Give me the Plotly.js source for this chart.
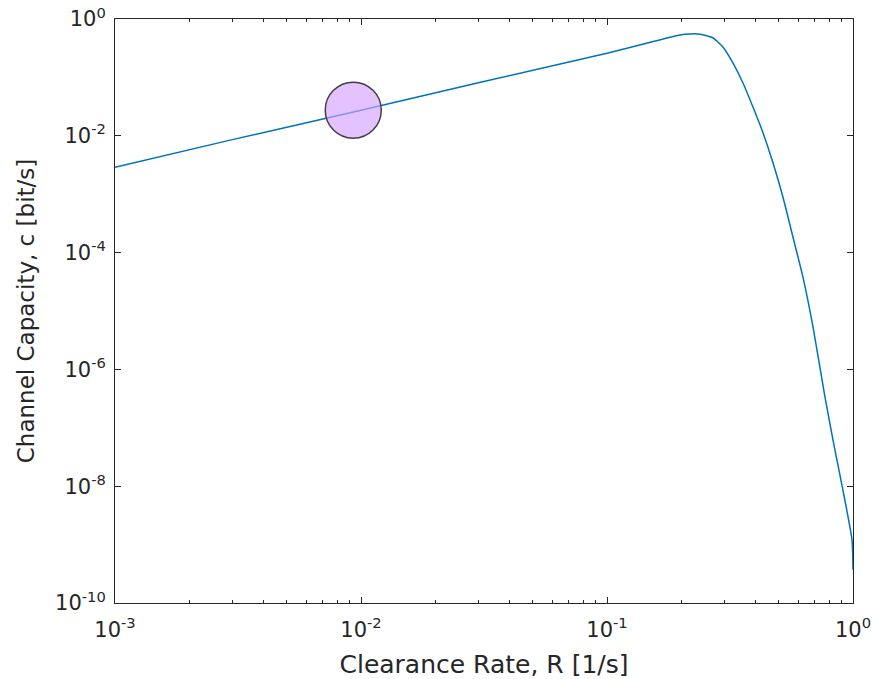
<!DOCTYPE html>
<html>
<head>
<meta charset="utf-8">
<script src="https://cdn.plot.ly/plotly-3.0.1.min.js"></script>
<style>html,body{margin:0;padding:0;background:#fff;}#chart{width:877px;height:679px;}</style>
</head>
<body>
<div id="chart"></div>
<script>
// Clearance rate R [1/s]
const rate = [0.001, 0.003, 0.01, 0.03, 0.1, 0.15, 0.198, 0.217, 0.239, 0.27, 0.296, 0.325, 0.357, 0.392, 0.431, 0.473, 0.519, 0.57, 0.626, 0.688, 0.769, 0.829, 0.91, 0.991, 1.0];
// Channel capacity c [bit/s]
const capacity = [0.0029, 0.0086, 0.0274, 0.081, 0.26, 0.40, 0.532, 0.555, 0.55, 0.473, 0.332, 0.177, 0.0802, 0.0311, 0.0112, 0.00342, 8.95e-4, 1.85e-4, 3.8e-5, 5.3e-6, 3.4e-7, 6.2e-8, 8.6e-9, 1.2e-9, 3.7e-10];
// Highlighted point
const markX = [0.0093];
const markY = [0.0275];

const xTickVals = [0.001, 0.01, 0.1, 1];
const xTickText = ['10<sup>-3</sup>', '10<sup>-2</sup>', '10<sup>-1</sup>', '10<sup>0</sup>'];
const yTickVals = [1e-10, 1e-8, 1e-6, 1e-4, 1e-2, 1];
const yTickText = ['10<sup>-10</sup>', '10<sup>-8</sup>', '10<sup>-6</sup>', '10<sup>-4</sup>', '10<sup>-2</sup>', '10<sup>0</sup>'];

const font = {family: 'DejaVu Sans, sans-serif', color: '#262626'};

const traces = [
  {x: rate, y: capacity, type: 'scatter', mode: 'lines',
   line: {color: '#0072BD', width: 1.5, shape: 'spline', smoothing: 0.5}, hoverinfo: 'skip'},
  {x: markX, y: markY, type: 'scatter', mode: 'markers',
   marker: {size: 56, color: 'rgba(214,160,255,0.65)', line: {color: '#404040', width: 1.5}}}
];

const axisCommon = {
  type: 'log', showgrid: false, zeroline: false,
  showline: true, linecolor: '#262626', linewidth: 1, mirror: 'ticks',
  ticks: 'inside', ticklen: 6, tickcolor: '#262626', tickwidth: 1,
  tickmode: 'array', tickfont: Object.assign({size: 21}, font)
};

const layout = {
  width: 877, height: 679,
  margin: {l: 115, r: 24, t: 19, b: 76},
  paper_bgcolor: '#ffffff', plot_bgcolor: '#ffffff',
  showlegend: false,
  font: font,
  xaxis: Object.assign({}, axisCommon, {
    range: [-3, 0], tickvals: xTickVals, ticktext: xTickText,
    ticklabelstandoff: 8,
    minor: {ticks: 'inside', ticklen: 3, tickcolor: '#262626', dtick: 'D1', showgrid: false},
    title: {text: 'Clearance Rate, R [1/s]', font: Object.assign({size: 25}, font), standoff: 14}
  }),
  yaxis: Object.assign({}, axisCommon, {
    range: [-10, 0], tickvals: yTickVals, ticktext: yTickText,
    ticklabelstandoff: 4,
    title: {text: 'Channel Capacity, c [bit/s]', font: Object.assign({size: 23}, font), standoff: 14}
  })
};

Plotly.newPlot('chart', traces, layout, {staticPlot: true, displayModeBar: false});
</script>
</body>
</html>
